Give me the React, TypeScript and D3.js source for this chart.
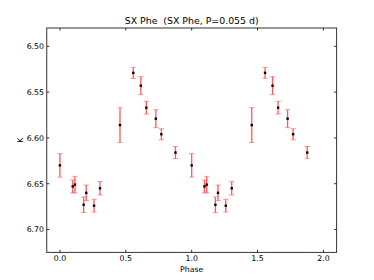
import React from "react";
import * as d3 from "d3";

const phases = [0.0, 0.097, 0.114, 0.18, 0.2, 0.259, 0.304, 0.456, 0.557, 0.614, 0.656, 0.728, 0.77, 0.877];
const mags = [6.63, 6.653, 6.651, 6.673, 6.66, 6.674, 6.655, 6.586, 6.529, 6.543, 6.567, 6.579, 6.596, 6.616];
const errs = [0.0128, 0.007, 0.009, 0.0085, 0.0085, 0.007, 0.0073, 0.019, 0.006, 0.0098, 0.007, 0.0098, 0.006, 0.0066];
const cycles = [0, 1];
const xTicks = [0.0, 0.5, 1.0, 1.5, 2.0];
const yTicks = [6.5, 6.55, 6.6, 6.65, 6.7];
const title = "SX Phe  (SX Phe, P=0.055 d)";

const W = 374, H = 280;
const L = 46.75, R = 336.6, T = 28, B = 252.4;

export default function App() {
  const x = d3.scaleLinear().domain([-0.1, 2.1]).range([L, R]);
  const y = d3.scaleLinear().domain([6.48, 6.725]).range([T, B]);
  const font = "'DejaVu Sans', sans-serif";
  const tick = 2.6;
  const pts: { p: number; m: number; e: number }[] = [];
  cycles.forEach((c) => phases.forEach((p, i) => pts.push({ p: p + c, m: mags[i], e: errs[i] })));
  return (
    <svg width={W} height={H} style={{ position: "absolute", left: 0, top: 0, background: "#fff" }}>
      <rect x={0} y={0} width={W} height={H} fill="#fff" />
      {pts.map((d, i) => (
        <g key={i}>
          <line x1={x(d.p)} x2={x(d.p)} y1={y(d.m - d.e)} y2={y(d.m + d.e)} stroke="#ff2020" strokeWidth={1.3} strokeOpacity={0.75} />
          <line x1={x(d.p) - 2.6} x2={x(d.p) + 2.6} y1={y(d.m - d.e)} y2={y(d.m - d.e)} stroke="#ff6060" strokeWidth={1} strokeOpacity={0.65} />
          <line x1={x(d.p) - 2.6} x2={x(d.p) + 2.6} y1={y(d.m + d.e)} y2={y(d.m + d.e)} stroke="#ff6060" strokeWidth={1} strokeOpacity={0.65} />
        </g>
      ))}
      {pts.map((d, i) => (
        <rect key={"m" + i} x={x(d.p) - 1.2} y={y(d.m) - 1.2} width={2.4} height={2.4} fill="#000" />
      ))}
      <rect x={L} y={T} width={R - L} height={B - T} fill="none" stroke="#333" strokeWidth={1} />
      {xTicks.map((t) => (
        <g key={"x" + t}>
          <line x1={x(t)} x2={x(t)} y1={B} y2={B - tick} stroke="#000" strokeWidth={0.8} />
          <line x1={x(t)} x2={x(t)} y1={T} y2={T + tick} stroke="#000" strokeWidth={0.8} />
          <text x={x(t)} y={261} fontSize={7.8} fontFamily={font} textAnchor="middle" fill="#000">
            {t.toFixed(1)}
          </text>
        </g>
      ))}
      {yTicks.map((t) => (
        <g key={"y" + t}>
          <line x1={L} x2={L + tick} y1={y(t)} y2={y(t)} stroke="#000" strokeWidth={0.8} />
          <line x1={R} x2={R - tick} y1={y(t)} y2={y(t)} stroke="#000" strokeWidth={0.8} />
          <text x={44} y={y(t) + 2.8} fontSize={7.8} fontFamily={font} textAnchor="end" fill="#000">
            {t.toFixed(2)}
          </text>
        </g>
      ))}
      <text x={(L + R) / 2} y={272} fontSize={7.8} fontFamily={font} textAnchor="middle" fill="#000">
        Phase
      </text>
      <text transform={`translate(22.5,${(T + B) / 2}) rotate(-90)`} fontSize={7.8} fontFamily={font} textAnchor="middle" fill="#000">
        K
      </text>
      <text x={(L + R) / 2} y={24} fontSize={9.4} fontFamily={font} textAnchor="middle" fill="#000" xmlSpace="preserve" style={{ whiteSpace: "pre" }}>
        {title}
      </text>
    </svg>
  );
}
